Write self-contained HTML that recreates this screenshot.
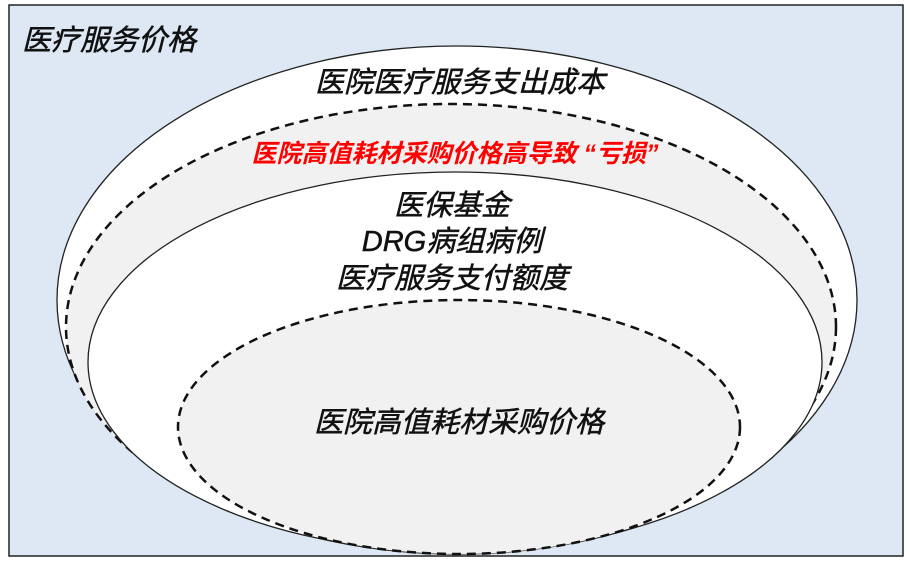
<!DOCTYPE html>
<html><head><meta charset="utf-8"><style>
body{margin:0;background:#fff;}
svg text{font-family:"Liberation Sans","Noto Sans CJK SC",sans-serif;font-style:italic;}
</style></head><body>
<svg width="910" height="562" viewBox="0 0 910 562" xmlns="http://www.w3.org/2000/svg">
<rect x="9" y="5" width="894" height="551" fill="#dde8f4" stroke="#222" stroke-width="1.5"/>
<ellipse cx="457" cy="300" rx="400" ry="254" fill="#fff" stroke="#222" stroke-width="1.3"/>
<ellipse cx="451" cy="327" rx="385" ry="223" fill="#f1f1f1" stroke="#111" stroke-width="2.5" stroke-dasharray="9,6"/>
<ellipse cx="455" cy="362" rx="367" ry="190" fill="#fff" stroke="#222" stroke-width="1.3"/>
<ellipse cx="459" cy="427" rx="281" ry="127" fill="#f1f1f1" stroke="#111" stroke-width="2.5" stroke-dasharray="9,6"/>
<g stroke="#111" stroke-width="0.5">
<text x="22" y="50" font-size="29" fill="#111">医疗服务价格</text>
<text x="460" y="92" font-size="29" fill="#111" text-anchor="middle">医院医疗服务支出成本</text>
<text x="452" y="215" font-size="29" fill="#111" text-anchor="middle">医保基金</text>
<text x="452" y="251" font-size="29" fill="#111" text-anchor="middle">DRG病组病例</text>
<text x="452" y="288" font-size="29" fill="#111" text-anchor="middle">医疗服务支付额度</text>
<text x="459" y="432" font-size="29" fill="#111" text-anchor="middle">医院高值耗材采购价格</text>
</g>
<text x="455" y="162" font-size="25" fill="#f00" text-anchor="middle" font-weight="bold">医院高值耗材采购价格高导致 “亏损”</text>
</svg>
</body></html>
